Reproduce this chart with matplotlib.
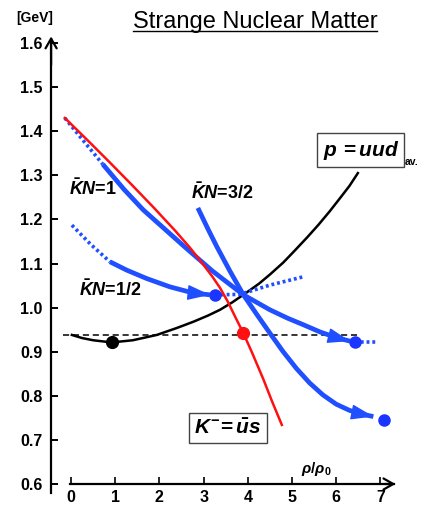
import matplotlib
matplotlib.use("Agg")
import matplotlib.pyplot as plt

plt.rcParams["font.family"] = ["Liberation Sans", "DejaVu Sans"]
plt.rcParams["mathtext.fontset"] = "custom"
plt.rcParams["mathtext.rm"] = "Liberation Sans:bold"
plt.rcParams["mathtext.it"] = "Liberation Sans:italic:bold"
plt.rcParams["mathtext.bf"] = "Liberation Sans:bold"

BLUE = "#1f4fff"
DOT_BLUE = "#1a35ff"
RED = "#ff1010"

# ---- data (rho/rho0, GeV) ----
rho_p = [0.02, 0.25, 0.5, 0.92, 1.4, 1.94, 2.4, 2.77, 3.1, 3.37, 3.65, 3.97,
         4.25, 4.5, 4.8, 5.05, 5.35, 5.6, 5.85, 6.1, 6.3, 6.49]
m_p = [0.938, 0.931, 0.926, 0.921, 0.926, 0.938, 0.954, 0.968, 0.982, 0.995,
       1.012, 1.034, 1.054, 1.075, 1.102, 1.128, 1.16, 1.188, 1.218, 1.25,
       1.276, 1.305]

rho_kminus = [-0.14, 0.36, 0.86, 1.36, 1.86, 2.36, 2.69, 2.99, 3.2, 3.37, 3.55,
              3.72, 3.9, 4.1, 4.35, 4.55, 4.77]
m_kminus = [1.43, 1.381, 1.331, 1.28, 1.228, 1.174, 1.136, 1.098, 1.07, 1.045,
            1.013, 0.978, 0.942, 0.897, 0.838, 0.787, 0.734]

# KbarN = 1
rho_k1_dot = [-0.14, 0.3, 0.72]
m_k1_dot = [1.43, 1.376, 1.325]
rho_k1 = [0.72, 1.2, 1.63, 2.01, 2.58, 3.2, 3.9, 4.5, 4.9, 5.26, 5.63, 6.0, 6.31]
m_k1 = [1.325, 1.268, 1.222, 1.188, 1.137, 1.083, 1.029, 0.995, 0.976, 0.961,
        0.945, 0.932, 0.924]
rho_k1_tail = [6.42, 6.95]
m_k1_tail = [0.923, 0.923]

# KbarN = 3/2
rho_k32 = [2.87, 3.1, 3.3, 3.6, 3.9, 4.2, 4.5, 4.8, 5.1, 5.4, 5.7, 6.0,
           6.3, 6.6, 6.84]
m_k32 = [1.226, 1.178, 1.138, 1.082, 1.029, 0.985, 0.942, 0.9, 0.862, 0.829,
         0.802, 0.781, 0.767, 0.758, 0.753]

# KbarN = 1/2
rho_k12_dot = [0.02, 0.45, 0.88]
m_k12_dot = [1.187, 1.143, 1.104]
rho_k12 = [0.88, 1.26, 1.71, 2.24, 2.77, 3.14]
m_k12 = [1.104, 1.085, 1.066, 1.047, 1.033, 1.029]
rho_k12_tail = [3.26, 3.82, 4.5, 5.26]
m_k12_tail = [1.029, 1.03, 1.051, 1.07]

m_free = 0.939
rho_free = [-0.18, 6.47]

# end points (dots)
dot_black = (0.92, 0.921)
dot_red = (3.9, 0.942)
dots_blue_rho = [3.26, 6.42, 7.07]
dots_blue_m = [1.029, 0.923, 0.745]

x_ticks = list(range(8))
y_ticks = [0.6, 0.7, 0.8, 0.9, 1.0, 1.1, 1.2, 1.3, 1.4, 1.5, 1.6]


def arrow_head(ax, xs, ys):
    ax.annotate("", xy=(xs[-1], ys[-1]), xytext=(xs[-2], ys[-2]),
                arrowprops=dict(arrowstyle="-|>,head_length=0.7,head_width=0.24",
                                mutation_scale=20, color=BLUE, lw=1,
                                shrinkA=0, shrinkB=0), zorder=4)


fig = plt.figure(figsize=(4.24, 5.05), dpi=100)
ax = fig.add_axes([0, 0, 1, 1])
ax.set_xlim(-1.606, 7.986)
ax.set_ylim(0.5524, 1.6975)

# axes
for s in ["top", "right"]:
    ax.spines[s].set_visible(False)
ax.spines["left"].set_position(("data", -0.45))
ax.spines["left"].set_bounds(0.58, 1.6)
ax.spines["bottom"].set_position(("data", 0.6))
ax.spines["bottom"].set_bounds(-0.02, 7.3)
ax.spines["left"].set_linewidth(1.6)
ax.spines["bottom"].set_linewidth(1.6)
ax.set_xticks(x_ticks)
ax.set_xticklabels([str(t) for t in x_ticks], fontsize=11.5, fontweight="bold")
ax.set_yticks(y_ticks)
ax.set_yticklabels([f"{t:.1f}" for t in y_ticks], fontsize=11.5, fontweight="bold")
ax.tick_params(axis="x", direction="in", length=5, width=1.2, pad=4)
ax.tick_params(axis="y", direction="in", length=5, width=1.4, pad=6)
ax.annotate("", xy=(-0.45, 1.615), xytext=(-0.45, 1.55),
            arrowprops=dict(arrowstyle="->,head_length=0.35,head_width=0.2",
                            mutation_scale=20, lw=1.6, color="k",
                            shrinkA=0, shrinkB=0))
ax.annotate("", xy=(7.34, 0.6), xytext=(7.1, 0.6),
            arrowprops=dict(arrowstyle="->,head_length=0.35,head_width=0.2",
                            mutation_scale=20, lw=1.6, color="k",
                            shrinkA=0, shrinkB=0))

# reference line
ax.plot(rho_free, [m_free, m_free], color="k", lw=1.1, ls=(0, (4, 2.5)), zorder=1)

# nucleon and K-
ax.plot(rho_p, m_p, color="k", lw=1.8, zorder=2)
ax.plot(rho_kminus, m_kminus, color=RED, lw=1.8, zorder=3)

# KbarN branches
dotted = dict(color=BLUE, lw=2.6, ls=(0, (0.8, 0.8)), zorder=2)
solid = dict(color=BLUE, lw=3.4, solid_capstyle="butt", solid_joinstyle="round",
             zorder=2)
ax.plot(rho_k1_dot, m_k1_dot, **dotted)
ax.plot(rho_k1, m_k1, **solid)
ax.plot(rho_k1_tail, m_k1_tail, **dotted)
arrow_head(ax, rho_k1, m_k1)

ax.plot(rho_k32, m_k32, **solid)
arrow_head(ax, rho_k32, m_k32)

ax.plot(rho_k12_dot, m_k12_dot, **dotted)
ax.plot(rho_k12, m_k12, **solid)
ax.plot(rho_k12_tail, m_k12_tail, **dotted)
arrow_head(ax, rho_k12, m_k12)

ax.plot(*dot_black, "o", color="k", ms=8.5, zorder=5)
ax.plot(*dot_red, "o", color=RED, ms=8.5, zorder=5)
ax.plot(dots_blue_rho, dots_blue_m, "o", color=DOT_BLUE, ms=8, ls="none", zorder=5)

# labels
ax.text(0.5, 1.27, r"$\bar{K}N$=1", fontsize=13, fontweight="bold",
        ha="center", va="center")
ax.text(3.42, 1.262, r"$\bar{K}N$=3/2", fontsize=13, fontweight="bold",
        ha="center", va="center")
ax.text(0.9, 1.04, r"$\bar{K}N$=1/2", fontsize=13, fontweight="bold",
        ha="center", va="center")

box = dict(boxstyle="square,pad=0.25", fc="white", ec="#444444", lw=1.0)
ax.text(6.56, 1.357, r"$p\,=uud$", fontsize=15, ha="center", va="center", bbox=box)
ax.text(7.55, 1.33, "av.", fontsize=7.5, fontweight="bold", ha="left", va="center")
ax.text(3.55, 0.727, r"$K^{-}\!=\bar{u}s$", fontsize=15, ha="center", va="center",
        bbox=box)
ax.text(5.54, 0.634, r"$\rho/\rho_0$", fontsize=11, ha="center", va="center")

ax.text(-0.81, 1.657, "[GeV]", fontsize=10, fontweight="bold", ha="center", va="center")
title = ax.text(4.16, 1.648, "Strange Nuclear Matter", fontsize=17,
                ha="center", va="center")

# underline the title
fig.canvas.draw()
bb = title.get_window_extent().transformed(ax.transData.inverted())
ax.plot([bb.x0, bb.x1], [bb.y0 + 0.004, bb.y0 + 0.004], color="k", lw=1.0)

fig.savefig("out.png", dpi=100)
